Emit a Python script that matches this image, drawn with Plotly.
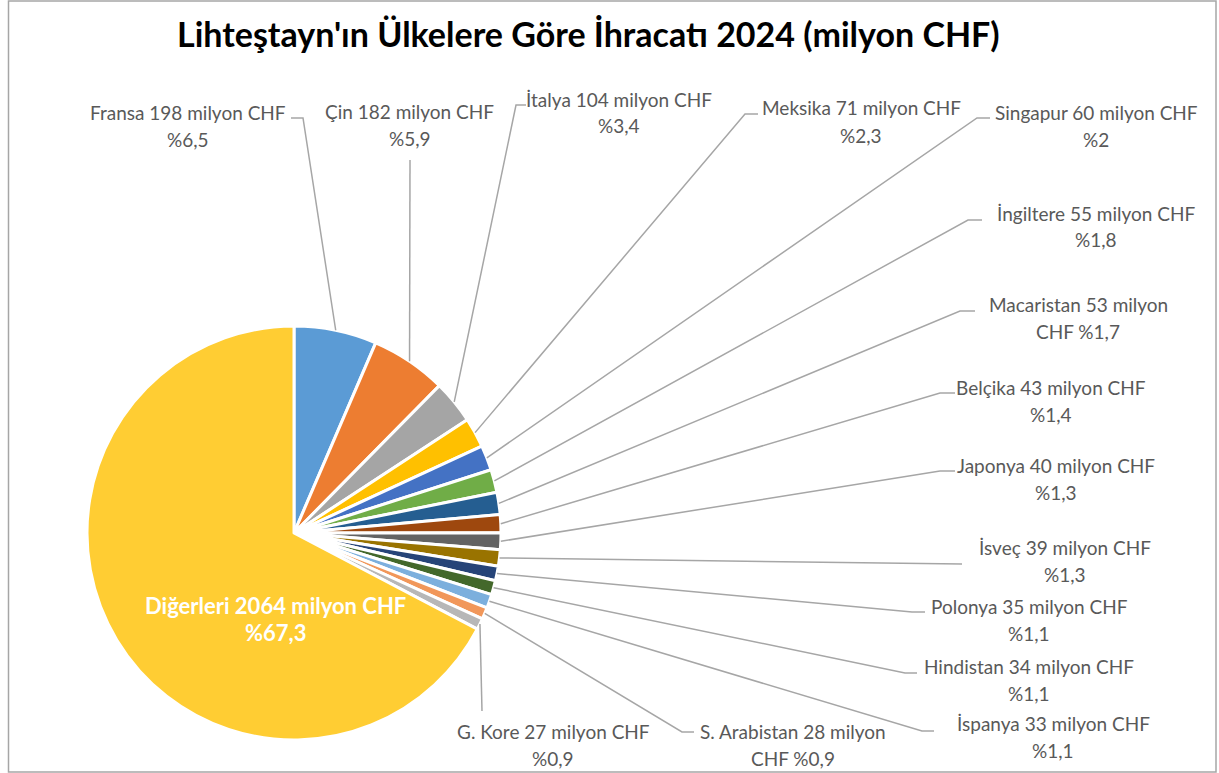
import math
import plotly.graph_objects as go

# ---------------- data ----------------
countries = ["Fransa", "Çin", "İtalya", "Meksika", "Singapur", "İngiltere",
             "Macaristan", "Belçika", "Japonya", "İsveç", "Polonya",
             "Hindistan", "İspanya", "S. Arabistan", "G. Kore", "Diğerleri"]
values = [198, 182, 104, 71, 60, 55, 53, 43, 40, 39, 35, 34, 33, 28, 27, 2064]
colors = ["#5B9BD5", "#ED7D31", "#A5A5A5", "#FFC000", "#4472C4", "#70AD47",
          "#255E91", "#9E480E", "#636363", "#997300", "#264478", "#43682B",
          "#7CAFDD", "#F1975A", "#B7B7B7", "#FFCD33"]
title_text = "Lihteştayn'ın Ülkelere Göre İhracatı 2024 (milyon CHF)"
unit = "milyon CHF"
wrapped = {"Macaristan", "S. Arabistan"}

# ---------------- layout constants (pixels) ----------------
W, H = 1219, 773
CX, CY, R = 294, 533, 207

# label centre (first line) positions
label_cx = [188, 410, 619, 861, 1096, 1096, 1078, 1051, 1056, 1065, 1029, 1029, 1053, 793, 553, 275]
label_cy = [113, 112, 99, 108, 113, 213, 305, 387, 465, 547, 606, 666, 723, 731, 731, 605]
# leader line knee and end points near labels
knee = [(303, 118), (410, 160), (516, 105), (745, 114), (977, 118), (968, 220),
        (960, 311), (940, 393), (940, 471), (962, 564), (912, 612), (905, 673),
        (922, 731), (682, 732), (482, 711), None]
endp = [(291, 118), (410, 160), (526, 105), (758, 114), (990, 118), (982, 220),
        (975, 311), (955, 393), (955, 471), (962, 564), (925, 612), (917, 673),
        (934, 731), (694, 732), (482, 711), None]
LINE_GAP = 27


def px(x):
    return x / W


def py(y):
    return 1 - y / H


def fmt_pct(v, total):
    p = round(v / total * 100, 1)
    s = f"{p:.1f}"
    if s.endswith(".0"):
        s = s[:-2]
    return "%" + s.replace(".", ",")


total = sum(values)

fig = go.Figure(go.Pie(
    labels=countries, values=values, sort=False, direction="clockwise",
    rotation=0, textinfo="none", hoverinfo="label+value+percent",
    marker=dict(colors=colors, line=dict(color="white", width=3)),
    domain=dict(x=[px(CX - R), px(CX + R)], y=[py(CY + R), py(CY - R)]),
    showlegend=False,
))

shapes = []
annotations = []
cum = 0
for i, (name, v) in enumerate(zip(countries, values)):
    mid = (cum + v / 2) / total * 2 * math.pi
    cum += v
    pct = fmt_pct(v, total)
    if name in wrapped:
        l1 = f"{name} {v} milyon"
        l2 = f"CHF {pct}"
    else:
        l1 = f"{name} {v} {unit}"
        l2 = pct
    inside = name == "Diğerleri"
    font = dict(family="Lato", size=22 if inside else 19,
                color="white" if inside else "#595959")
    for k, t in enumerate([l1, l2]):
        annotations.append(dict(
            x=px(label_cx[i]), y=py(label_cy[i] + k * LINE_GAP), xref="paper", yref="paper",
            text=f"<b>{t}</b>" if inside else t, showarrow=False,
            xanchor="center", yanchor="middle", font=font))
    if knee[i] is not None:
        ex = CX + R * math.sin(mid)
        ey = CY - R * math.cos(mid)
        kx, ky = knee[i]
        qx, qy = endp[i]
        path = f"M {px(ex)},{py(ey)} L {px(kx)},{py(ky)} L {px(qx)},{py(qy)}"
        shapes.append(dict(type="path", path=path, xref="paper", yref="paper",
                           line=dict(color="#A6A6A6", width=1.5)))

# chart border
shapes.append(dict(type="rect", xref="paper", yref="paper",
                   x0=px(8.5), x1=px(1216), y0=py(772), y1=py(1),
                   line=dict(color="#A6A6A6", width=1.5)))

annotations.append(dict(x=px(588), y=py(33), xref="paper", yref="paper",
                        text=f"<b>{title_text}</b>", showarrow=False,
                        xanchor="center", yanchor="middle",
                        font=dict(family="Lato", size=34, color="black")))

fig.update_layout(
    width=W, height=H, autosize=False,
    margin=dict(l=0, r=0, t=0, b=0),
    paper_bgcolor="white", plot_bgcolor="white",
    shapes=shapes, annotations=annotations,
)

fig.write_html("out.html", config={"displayModeBar": False},
               post_script="document.body.style.margin='0';")
